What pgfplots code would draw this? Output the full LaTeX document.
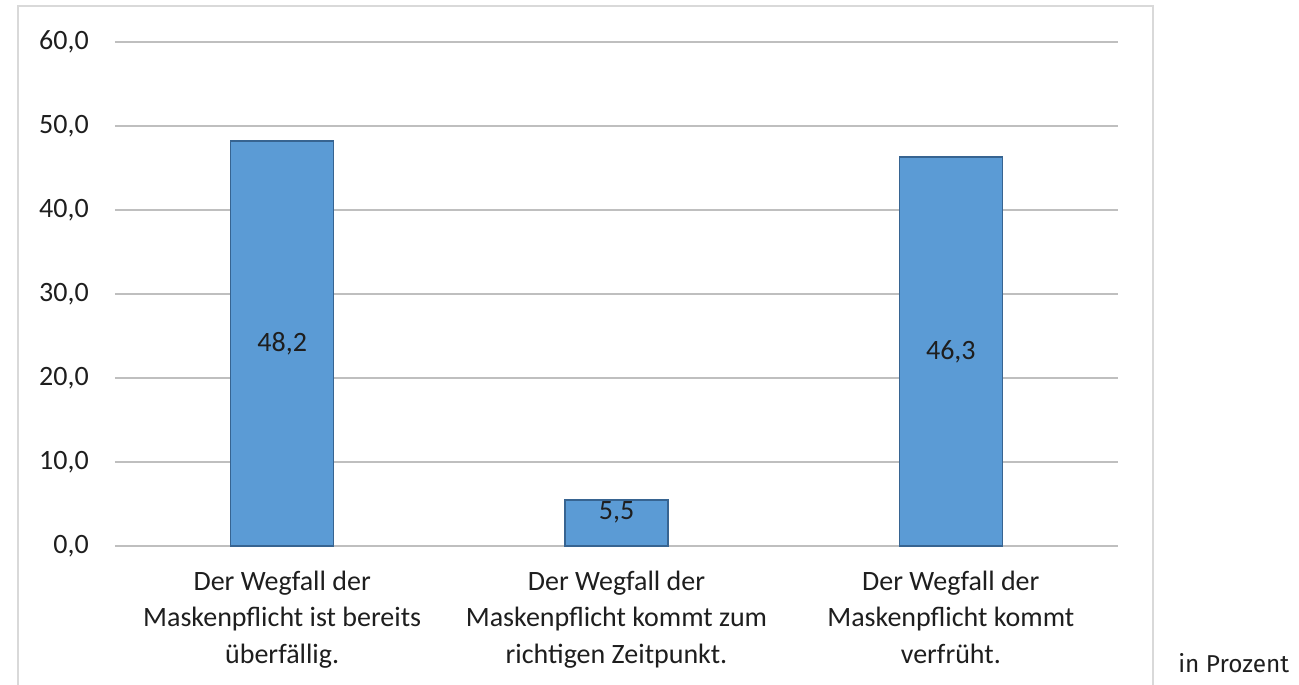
\documentclass[border=0pt]{standalone}
\usepackage{pgfplots}
\pgfplotsset{compat=1.18}
\usepackage{pgfplotstable}
\usepackage{fontspec}
\setmainfont{Carlito}
\newfontfamily\protfont{Fira Sans}
\definecolor{barfill}{RGB}{91,155,213}
\definecolor{baredge}{RGB}{55,100,145}
\definecolor{gridc}{RGB}{191,191,191}
\definecolor{framec}{RGB}{217,217,217}
\definecolor{txt}{RGB}{30,30,30}
\pgfplotstableread{
x y
0 48.2
1 5.5
2 46.3
}\bardata
\pgfplotstableread{
x y lab
0 24.1 48,2
1 4.0 5,5
2 23.15 46,3
}\labeldata
\begin{document}
\begin{tikzpicture}[x=0.75pt,y=0.75pt]
\useasboundingbox (-115,-139) rectangle (1184,546);
\draw[framec, line width=1.5pt] (-97,-139) -- (-97,540) -- (1038,540) -- (1038,-139);
\begin{axis}[
  anchor=south west,
  scale only axis, width=752.25pt, height=378pt,
  xmin=-0.5, xmax=2.5, ymin=0, ymax=60,
  ytick={0,10,20,30,40,50,60},
  xtick={0,1,2},
  xticklabels={{Der Wegfall der\\Maskenpflicht ist bereits\\überfällig.},
               {Der Wegfall der\\Maskenpflicht kommt zum\\richtigen Zeitpunkt.},
               {Der Wegfall der\\Maskenpflicht kommt\\verfrüht.}},
  axis line style={draw=none},
  major tick length=0pt,
  ymajorgrids,
  major grid style={draw=gridc, line width=1.5pt},
  /pgf/number format/.cd, fixed, fixed zerofill, precision=1, use comma, assume math mode=true,
  /pgfplots/.cd,
  yticklabel style={font=\fontsize{21}{25}\selectfont, text=txt, anchor=east, inner sep=0pt, xshift=-19.5pt},
  xticklabel style={font=\fontsize{21}{27.4}\selectfont, text=txt, align=center, anchor=north, inner sep=0pt, yshift=-18.5pt},
  clip=false,
]
\addplot[ybar, bar width=77.25pt, fill=barfill, draw=baredge, line width=1.2pt] table[x=x,y=y] {\bardata};
\addplot[draw=none, mark=none, nodes near coords, point meta=explicit symbolic,
  nodes near coords style={anchor=center, inner sep=0pt, font=\fontsize{21}{25}\selectfont, text=txt}]
  table[x=x,y=y,meta=lab] {\labeldata};
\end{axis}
\node[anchor=base west, inner sep=0pt, font=\protfont\fontsize{18.3}{22}\selectfont, text=txt] at (1063,-126) {in Prozent};
\end{tikzpicture}
\end{document}
